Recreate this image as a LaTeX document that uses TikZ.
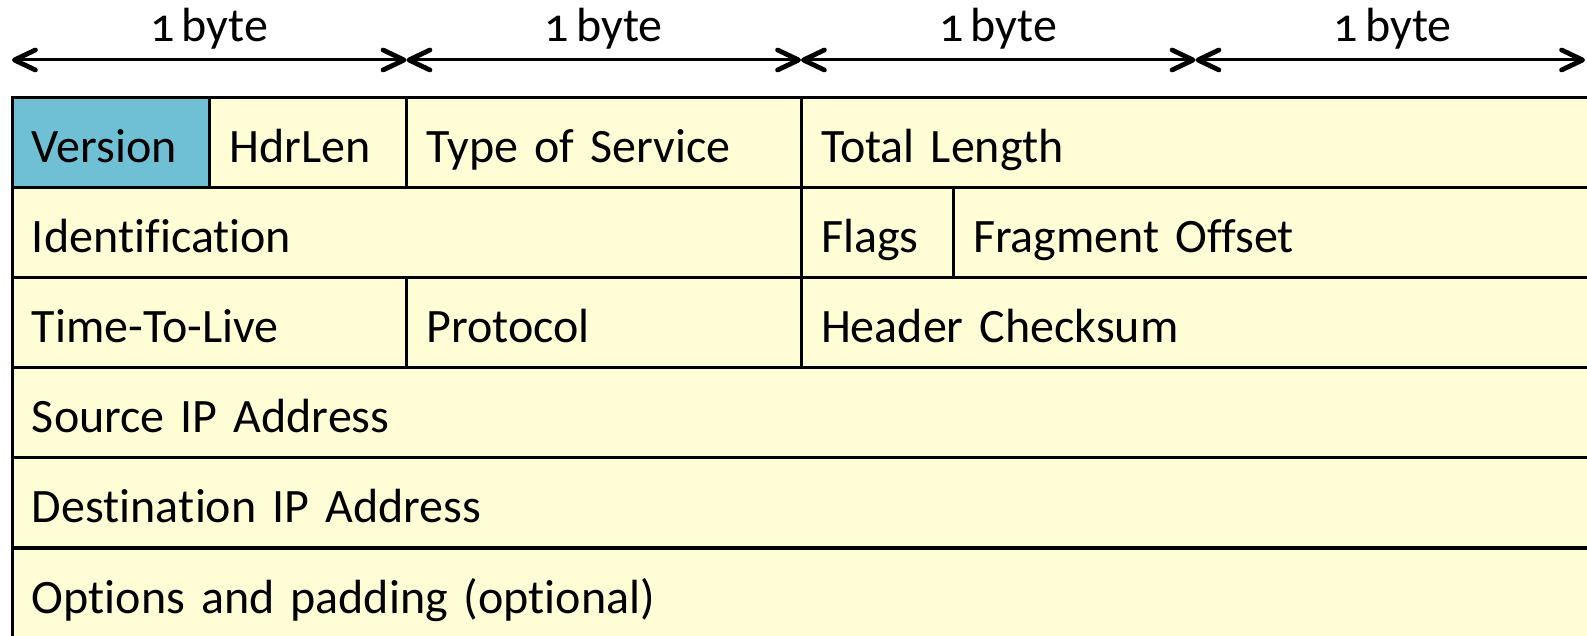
\documentclass[tikz,border=0pt]{standalone}
\usepackage{fontspec}
\setmainfont{Carlito}[Numbers=OldStyle,Ligatures={NoCommon,NoContextual},RawFeature={-calt}]
\usetikzlibrary{arrows.meta}
\definecolor{fieldyellow}{HTML}{FFFDD6}
\definecolor{fieldblue}{HTML}{6FC0D5}
\newcommand\fieldfont{\fontsize{24}{28}\selectfont\spaceskip=3.6pt plus 1pt minus 1pt\relax\xspaceskip=3.6pt\relax}
\newcommand\nolig{\kern0pt\relax}
\begin{document}
\begin{tikzpicture}[x=0.5pt,y=-0.5pt,
  field/.style={draw=black, line width=1.5pt, fill=fieldyellow, rectangle,
    anchor=north west, outer sep=0pt, inner xsep=10pt, inner ysep=0pt,
    minimum height=45pt, text height=22pt, text depth=2pt,
    font=\fieldfont},
  bytelabel/.style={anchor=base, inner sep=0pt, font=\fieldfont},
  bytearrow/.style={line width=1.5pt,
    {Straight Barb[length=10.5pt,width=10pt,line width=2.4pt,round]}-{Straight Barb[length=10.5pt,width=10pt,line width=2.4pt,round]}}
]
\useasboundingbox (0,0) rectangle (1587,636);
\clip (0,0) rectangle (1587,636);

% byte arrows
\coordinate (a0) at (12,60);
\coordinate (a1) at (406.5,60);
\coordinate (a2) at (801,60);
\coordinate (a3) at (1195.5,60);
\coordinate (a4) at (1585,60);
\draw[bytearrow] (a0) -- (a1);
\draw[bytearrow] (a1) -- (a2);
\draw[bytearrow] (a2) -- (a3);
\draw[bytearrow] (a3) -- (a4);
\node[bytelabel] (b1) at (209.25,42) {1 byte};
\node[bytelabel] (b2) at (603.75,42) {1 byte};
\node[bytelabel] (b3) at (998.25,42) {1 byte};
\node[bytelabel] (b4) at (1392.5,42) {1 byte};

% row 1
\node[field, fill=fieldblue, minimum width=98.625pt, text width=78.625pt] (version) at (12,98) {Version\hfill};
\node[field, minimum width=98.625pt, text width=78.625pt] (hdrlen) at (209.25,98) {HdrLen\hfill};
\node[field, minimum width=197.25pt, text width=177.25pt] (tos) at (406.5,98) {Type of Service\hfill};
\node[field, minimum width=394.5pt, text width=374.5pt] (totlen) at (801,98) {Total Length\hfill};
% row 2
\node[field, minimum width=394.5pt, text width=374.5pt] (ident) at (12,188) {Iden\nolig tification\hfill};
\node[field, minimum width=76pt, text width=56pt] (flags) at (801,188) {Flags\hfill};
\node[field, minimum width=318.5pt, text width=298.5pt] (frag) at (953,188) {Fragment Offset\hfill};
% row 3
\node[field, minimum width=197.25pt, text width=177.25pt] (ttl) at (12,278) {Time-To-Live\hfill};
\node[field, minimum width=197.25pt, text width=177.25pt] (proto) at (406.5,278) {Protocol\hfill};
\node[field, minimum width=394.5pt, text width=374.5pt] (cksum) at (801,278) {Header Checksum\hfill};
% rows 4-6
\node[field, minimum width=789pt, text width=769pt] (src) at (12,368) {Source IP Address\hfill};
\node[field, minimum width=789pt, text width=769pt] (dst) at (12,458) {Destina\nolig tion IP Address\hfill};
\node[field, minimum width=789pt, text width=769pt] (opts) at (12,548.5) {Options and padding (optional)\hfill};
\end{tikzpicture}
\end{document}
